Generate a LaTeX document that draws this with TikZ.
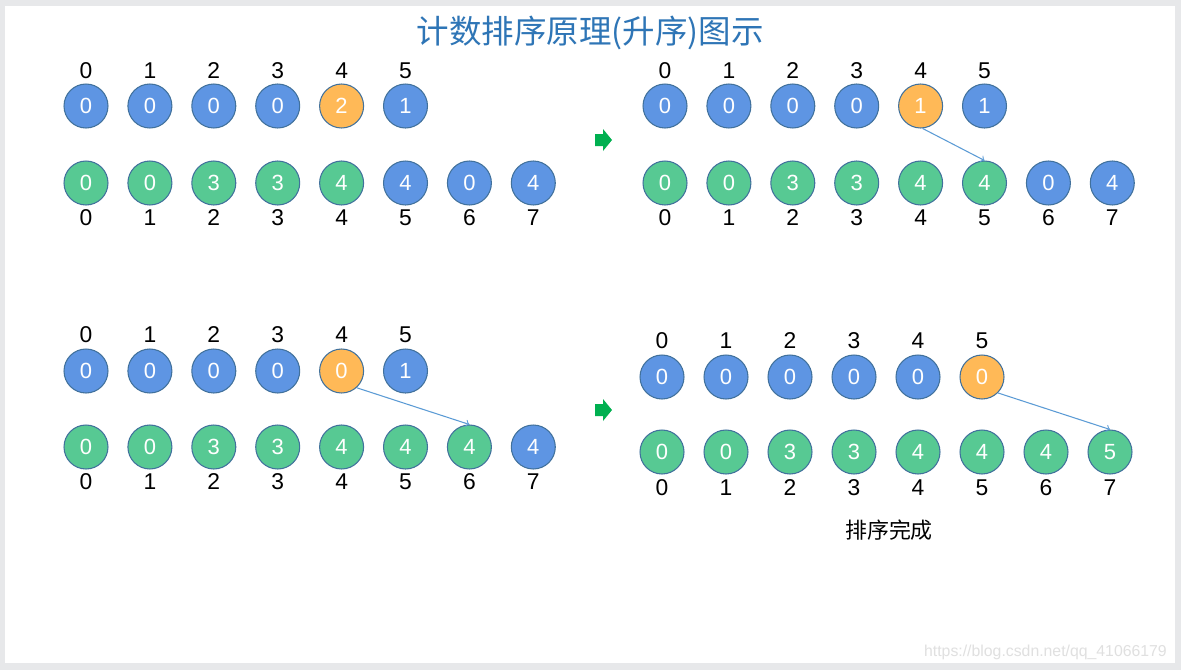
\documentclass[tikz,border=0pt]{standalone}
\usepackage{fontspec}
\setmainfont{Liberation Sans}
\newfontfamily\cjk{Noto Sans CJK SC}
\usetikzlibrary{calc, positioning}

\definecolor{cblue}{HTML}{5E95E3}
\definecolor{cgreen}{HTML}{57C993}
\definecolor{corange}{HTML}{FFB957}
\definecolor{cedge}{HTML}{41719C}
\definecolor{ctitle}{HTML}{2E75B6}
\definecolor{clink}{HTML}{5B9BD5}
\definecolor{cgo}{HTML}{00B050}
\definecolor{cframe}{HTML}{E7E8EA}

\tikzset{
  ball/.style={circle, draw=cedge, line width=0.6pt, minimum size=0.88cm,
    inner sep=0pt, text=white, font=\fontsize{12.5}{14}\selectfont},
  idx/.style={font=\fontsize{13}{15}\selectfont},
  link/.style={->, draw=clink, line width=0.6pt},
}

\begin{document}
\begin{tikzpicture}[x=0.02cm, y=-0.02cm]
    % Khung nen
    \useasboundingbox (0,0) rectangle (1181,670);
    \fill[cframe] (0,0) rectangle (1181,670);
    \fill[white] (5,6) rectangle (1175,663);

    \node[font=\cjk\fontsize{18.5}{20}\selectfont, text=ctitle] (title) at (590,33) {计数排序原理(升序)图示};

    % Buoc 1 (tren trai)
    \foreach \v/\c [count=\i from 0] in {0/cblue,0/cblue,0/cblue,0/cblue,2/corange,1/cblue} {
        \node[ball, fill=\c] (a-t-\i) at ({86+63.9*\i},106) {\v};
        \node[idx] (a-ti-\i) at ({86+63.9*\i},71) {\i};
    }
    \foreach \v/\c [count=\i from 0] in {0/cgreen,0/cgreen,3/cgreen,3/cgreen,4/cgreen,4/cblue,0/cblue,4/cblue} {
        \node[ball, fill=\c] (a-b-\i) at ({86+63.9*\i},183) {\v};
        \node[idx] (a-bi-\i) at ({86+63.9*\i},218) {\i};
    }

    % Buoc 2 (tren phai)
    \foreach \v/\c [count=\i from 0] in {0/cblue,0/cblue,0/cblue,0/cblue,1/corange,1/cblue} {
        \node[ball, fill=\c] (b-t-\i) at ({665+63.9*\i},106) {\v};
        \node[idx] (b-ti-\i) at ({665+63.9*\i},71) {\i};
    }
    \foreach \v/\c [count=\i from 0] in {0/cgreen,0/cgreen,3/cgreen,3/cgreen,4/cgreen,4/cgreen,0/cblue,4/cblue} {
        \node[ball, fill=\c] (b-b-\i) at ({665+63.9*\i},183) {\v};
        \node[idx] (b-bi-\i) at ({665+63.9*\i},218) {\i};
    }
    \draw[link] (b-t-4.-85) -- (b-b-5.north);

    % Buoc 3 (duoi trai)
    \foreach \v/\c [count=\i from 0] in {0/cblue,0/cblue,0/cblue,0/cblue,0/corange,1/cblue} {
        \node[ball, fill=\c] (c-t-\i) at ({86+63.9*\i},371) {\v};
        \node[idx] (c-ti-\i) at ({86+63.9*\i},335) {\i};
    }
    \foreach \v/\c [count=\i from 0] in {0/cgreen,0/cgreen,3/cgreen,3/cgreen,4/cgreen,4/cgreen,4/cgreen,4/cblue} {
        \node[ball, fill=\c] (c-b-\i) at ({86+63.9*\i},447) {\v};
        \node[idx] (c-bi-\i) at ({86+63.9*\i},482) {\i};
    }
    \draw[link] (c-t-4.-48) -- (c-b-6.north);

    % Buoc 4 (duoi phai)
    \foreach \v/\c [count=\i from 0] in {0/cblue,0/cblue,0/cblue,0/cblue,0/cblue,0/corange} {
        \node[ball, fill=\c] (d-t-\i) at ({662+64*\i},377) {\v};
        \node[idx] (d-ti-\i) at ({662+64*\i},341) {\i};
    }
    \foreach \v/\c [count=\i from 0] in {0/cgreen,0/cgreen,3/cgreen,3/cgreen,4/cgreen,4/cgreen,4/cgreen,5/cgreen} {
        \node[ball, fill=\c] (d-b-\i) at ({662+64*\i},452) {\v};
        \node[idx] (d-bi-\i) at ({662+64*\i},488) {\i};
    }
    \draw[link] (d-t-5.-45) -- (d-b-7.north);
    \node[font=\cjk\fontsize{12.5}{14}\selectfont] (done) at (889,530) {排序完成};

    % Mui ten xanh
    \fill[cgo] (595,134) -- (603,134) -- (603,129) -- (612,140) -- (603,151) -- (603,146) -- (595,146) -- cycle;
    \fill[cgo] (595,404) -- (603,404) -- (603,399) -- (612,410) -- (603,421) -- (603,416) -- (595,416) -- cycle;

    \node[text=black!12, font=\fontsize{9}{11}\selectfont, anchor=east] (mark) at (1173,652) {https://blog.csdn.net/qq\_41066179};
\end{tikzpicture}
\end{document}
